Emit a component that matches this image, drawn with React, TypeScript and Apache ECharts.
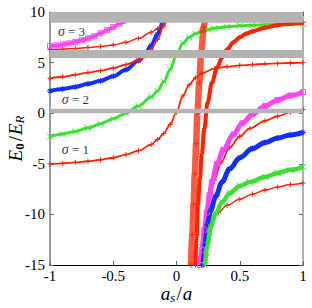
import React, { useEffect, useRef } from 'react';
import * as echarts from 'echarts';

// ---- data ----
const redR1 = [[-1,-5.0],[-0.9,-4.95],[-0.8,-4.85],[-0.7,-4.75],[-0.6,-4.6],[-0.5,-4.4],[-0.4,-4.1],[-0.3,-3.7],[-0.2,-3.1],[-0.15,-2.6],[-0.1,-2.0],[-0.05,-1.1],[0,0.1],[0.05,1.7],[0.1,2.8],[0.15,3.5],[0.2,3.95],[0.3,4.4],[0.4,4.6],[0.5,4.72],[0.6,4.8],[0.7,4.87],[0.8,4.92],[0.9,4.96],[1,5.0]];
const redR2 = [[-1,3.45],[-0.9,3.6],[-0.8,3.8],[-0.7,4.0],[-0.6,4.2],[-0.5,4.45],[-0.4,4.8],[-0.3,5.25],[-0.25,5.65],[-0.2,6.3],[-0.15,7.3],[-0.1,8.6],[-0.08,9.3]];
const redR3 = [[-1,6.3],[-0.9,6.33],[-0.8,6.4],[-0.7,6.5],[-0.6,6.6],[-0.5,6.75],[-0.4,7.0],[-0.3,7.4],[-0.2,8.0],[-0.15,8.35],[-0.1,8.9],[-0.07,9.4]];
const blueL = [[-1,2.2],[-0.9,2.4],[-0.8,2.6],[-0.7,2.9],[-0.6,3.2],[-0.5,3.65],[-0.4,4.3],[-0.3,5.2],[-0.25,5.8],[-0.2,6.7],[-0.15,7.8],[-0.11,8.9],[-0.1,9.3]];
const magentaL = [[-1,6.65],[-0.95,6.7],[-0.9,6.8],[-0.85,6.9],[-0.8,7.05],[-0.75,7.2],[-0.7,7.4],[-0.65,7.6],[-0.6,7.9],[-0.55,8.2],[-0.5,8.5],[-0.45,8.85],[-0.42,9.1]];
const greenL = [[-1,-2.3],[-0.9,-2.05],[-0.8,-1.8],[-0.7,-1.45],[-0.6,-1.05],[-0.5,-0.55],[-0.4,0.0],[-0.3,0.7],[-0.2,1.6],[-0.15,2.2],[-0.1,3.1],[-0.05,4.3],[0,5.8],[0.05,6.9],[0.1,7.5],[0.15,7.85],[0.2,8.1],[0.25,8.25],[0.3,8.4],[0.4,8.55],[0.5,8.65],[0.6,8.7],[0.7,8.75],[0.8,8.78],[0.9,8.8],[1,8.82]];

const redA = [[0.115,-15],[0.125,-12],[0.135,-9],[0.145,-6],[0.155,-3],[0.165,0],[0.18,3],[0.195,6],[0.215,8.5],[0.225,9.3]];
const redC = [[0.15,-15],[0.16,-12],[0.17,-9],[0.185,-6.5],[0.2,-4],[0.22,-1.5],[0.245,1],[0.28,3],[0.32,4.5],[0.36,5.5],[0.4,6.3],[0.45,7.0],[0.5,7.5],[0.55,7.85],[0.6,8.1],[0.7,8.45],[0.8,8.7],[0.9,8.85],[1,8.95]];
const redD = [[0.2,-13],[0.24,-10],[0.27,-8],[0.3,-6.6],[0.35,-4.9],[0.42,-3.4],[0.5,-2.3],[0.58,-1.5],[0.7,-0.75],[0.8,-0.3],[0.9,0.1],[1,0.35]];
const magentaR = [[0.185,-15],[0.2,-13.5],[0.22,-11.5],[0.24,-9.8],[0.26,-8.1],[0.28,-6.8],[0.32,-5.0],[0.37,-3.6],[0.45,-2.1],[0.52,-1.0],[0.6,-0.1],[0.7,0.7],[0.8,1.3],[0.9,1.75],[1,2.1]];
const blueR = [[0.21,-15],[0.225,-13],[0.245,-11],[0.27,-9.6],[0.31,-8.2],[0.36,-6.8],[0.42,-5.5],[0.5,-4.4],[0.6,-3.5],[0.7,-2.9],[0.8,-2.45],[0.9,-2.15],[1,-1.9]];
const redE = [[0.24,-14],[0.26,-12],[0.29,-10.4],[0.33,-9.8],[0.4,-9.1],[0.5,-8.5],[0.6,-8.0],[0.7,-7.6],[0.8,-7.3],[0.9,-7.05],[1,-6.9]];
const greenR = [[0.225,-15],[0.245,-13],[0.27,-11.2],[0.31,-9.9],[0.36,-8.8],[0.42,-7.9],[0.5,-7.2],[0.58,-6.8],[0.7,-6.3],[0.8,-5.9],[0.9,-5.6],[1,-5.3]];

const bands = [[8.95, 10], [5.45, 6.25], [0, 0.45]];
const sigmaTexts = ['1', '2', '3'];
const sigmaPos = [[-0.8, -3.55], [-0.8, 1.4], [-0.83, 8.1]];

const RED = '#ff2200';
const BLUE = '#1030ff';
const GREEN = '#3ae030';
const MAGENTA = '#ff44f0';

const PLUS = 'path://M0,5L10,5M5,0L5,10';
const CROSS = 'path://M0,0L10,10M10,0L0,10';
const STAR = 'path://M0,5L10,5M5,0L5,10M1.5,1.5L8.5,8.5M8.5,1.5L1.5,8.5';
const SQUARE = 'path://M0,0L10,0L10,10L0,10Z';

const SERIF = 'Liberation Serif';

function curve(data: number[][], color: string, symbol: string, size: number, lw: number, z: number, opacity = 1) {
  return {
    type: 'line',
    data,
    smooth: 0.35,
    smoothMonotone: 'x',
    symbol,
    symbolSize: size,
    showAllSymbol: true,
    silent: true,
    z,
    lineStyle: { color, width: lw, opacity },
    itemStyle: { color: 'rgba(0,0,0,0)', borderColor: color, borderWidth: 1, opacity },
  };
}

export default function App() {
  const ref = useRef<HTMLDivElement>(null);
  useEffect(() => {
    if (!ref.current) return;
    const chart = echarts.init(ref.current, undefined, { renderer: 'svg' });
    const axisTick = { inside: true, length: 4, lineStyle: { color: '#666' } };
    chart.setOption({
      animation: false,
      grid: { left: 50, right: 9, top: 12, bottom: 43, containLabel: false, outerBoundsMode: 'none' },
      xAxis: [
        {
          type: 'value', min: -1, max: 1, interval: 0.5, position: 'bottom',
          axisLine: { show: true, onZero: false, lineStyle: { color: '#000', width: 1.2 } },
          axisTick,
          splitLine: { show: false },
          axisLabel: { color: '#000', fontFamily: SERIF, fontSize: 15, margin: 3 },
          name: '{i|a}{s|s}{n|/}{i|a}',
          nameLocation: 'middle',
          nameGap: 17,
          nameMoveOverlap: false,
          nameTextStyle: {
            rich: {
              i: { fontFamily: SERIF, fontStyle: 'italic', fontSize: 19, color: '#000', lineHeight: 22 },
              s: { fontFamily: SERIF, fontStyle: 'italic', fontSize: 13, color: '#000', lineHeight: 13, verticalAlign: 'bottom' },
              n: { fontFamily: SERIF, fontSize: 19, color: '#000', lineHeight: 22, padding: [0, 1, 0, 1] },
            },
          },
        },
        {
          type: 'value', min: -1, max: 1, interval: 0.5, position: 'top',
          axisLine: { show: true, onZero: false, lineStyle: { color: '#888', width: 1 } },
          axisTick, axisLabel: { show: false }, splitLine: { show: false },
        },
      ],
      yAxis: [
        {
          type: 'value', min: -15, max: 10, interval: 5, position: 'left',
          axisLine: { show: true, onZero: false, lineStyle: { color: '#777', width: 1.5 } },
          axisTick,
          splitLine: { show: false },
          axisLabel: { color: '#000', fontFamily: SERIF, fontSize: 15, margin: 5 },
          name: '{e|E}{z|0}{n|/}{e|E}{r|R}',
          nameLocation: 'middle',
          nameGap: 24,
          nameRotate: 90,
          nameMoveOverlap: false,
          nameTextStyle: {
            rich: {
              e: { fontFamily: SERIF, fontStyle: 'italic', fontSize: 19, color: '#000', lineHeight: 22 },
              z: { fontFamily: SERIF, fontWeight: 'bold', fontSize: 13, color: '#000', lineHeight: 13, verticalAlign: 'bottom', padding: [0, 1, 0, 0] },
              n: { fontFamily: SERIF, fontSize: 19, color: '#000', lineHeight: 22, padding: [0, 1, 0, 1] },
              r: { fontFamily: SERIF, fontStyle: 'italic', fontSize: 13, color: '#000', lineHeight: 13, verticalAlign: 'bottom' },
            },
          },
        },
        {
          type: 'value', min: -15, max: 10, interval: 5, position: 'right',
          axisLine: { show: true, onZero: false, lineStyle: { color: '#999', width: 1.5 } },
          axisTick, axisLabel: { show: false }, splitLine: { show: false },
        },
      ],
      series: [
        curve(greenL, GREEN, CROSS, 6, 3, 2),
        curve(redR1, RED, PLUS, 5, 1.8, 3),
        curve(blueL, BLUE, STAR, 6, 4, 3),
        curve(redR2, RED, PLUS, 5, 1.8, 4),
        curve(redR3, RED, PLUS, 5, 1.5, 3),
        curve(magentaL, MAGENTA, SQUARE, 5, 3.5, 3),
        curve(redA, RED, PLUS, 6, 6.5, 3, 0.75),
        curve(redC, RED, PLUS, 5, 4, 3),
        curve(redD, RED, PLUS, 5, 1.8, 3),
        curve(magentaR, MAGENTA, SQUARE, 5, 5, 4),
        curve(blueR, BLUE, STAR, 6, 5, 4),
        curve(redE, RED, PLUS, 5, 1.5, 4),
        curve(greenR, GREEN, CROSS, 6, 4.5, 5),
        {
          type: 'custom',
          silent: true,
          z: 10,
          data: bands,
          renderItem: (_params: any, api: any) => {
            const p0 = api.coord([-1, api.value(1)]);
            const p1 = api.coord([1, api.value(0)]);
            return {
              type: 'rect',
              shape: { x: p0[0], y: p0[1], width: p1[0] - p0[0], height: p1[1] - p0[1] },
              style: { fill: '#b3b3b3' },
            };
          },
        },
        {
          type: 'scatter',
          silent: true,
          z: 11,
          symbolSize: 0,
          data: sigmaPos.map((p, i) => ({ value: p, name: sigmaTexts[i] })),
          label: {
            show: true,
            position: 'inside',
            formatter: (p: any) => `{g|σ} = ${p.name}`,
            fontFamily: SERIF,
            fontSize: 13,
            color: '#000',
            rich: { g: { fontFamily: SERIF, fontStyle: 'italic', fontSize: 14, color: '#000' } },
          },
        },
      ],
    });
    return () => chart.dispose();
  }, []);
  return <div ref={ref} style={{ position: 'absolute', left: 0, top: 0, width: 312, height: 308 }} />;
}
